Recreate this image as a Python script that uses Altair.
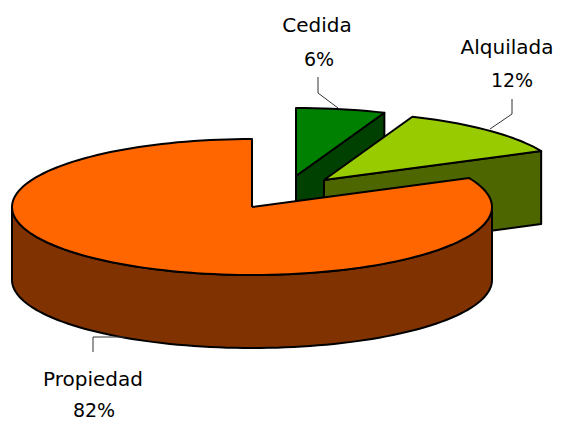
import numpy as np
import pandas as pd
import altair as alt

# Data
categories = ["Propiedad", "Cedida", "Alquilada"]
shares = [82, 6, 12]
top_colors = ["#FF6600", "#008000", "#99CC00"]
side_colors = ["#803300", "#004000", "#4D6600"]
centers_x = [252, 296, 324]
centers_y = [207, 176, 180]
label_x = [93, 317, 507]
label_name_y = [386, 32, 54]
pct_x = [94, 319, 512]
label_pct_y = [417, 66, 87]
leader_x = [[93, 93, 125], [318, 318, 338], [512, 512, 490]]
leader_y = [[352, 337, 337], [77, 93, 108], [99, 114, 129]]

RX, RY, DEPTH = 240, 68, 73
W, H = 548, 414
xs = alt.Scale(domain=[8, 8 + W], range=[0, W], nice=False, zero=False)
ys = alt.Scale(domain=[8, 8 + H], range=[0, H], nice=False, zero=False)


def arc(cx, cy, a0, a1):
    n = max(int(abs(a1 - a0) / 2), 2)
    t = np.radians(np.linspace(a0, a1, n + 1))
    return list(cx + RX * np.sin(t)), list(cy - RY * np.cos(t))


def poly(px, py, fill):
    df = pd.DataFrame({"x": px, "y": py, "i": range(len(px))})
    return alt.Chart(df).mark_line(
        fill=fill, stroke="black", strokeWidth=2, strokeJoin="round", clip=False
    ).encode(
        x=alt.X("x:Q", scale=xs, axis=None),
        y=alt.Y("y:Q", scale=ys, axis=None),
        order=alt.Order("i:Q"),
    )


layers = []

# exploded slices: Cedida (6%) from top clockwise, then Alquilada (12%)
spans = {}
spans["Cedida"] = (0.0, shares[1] * 3.6)
spans["Alquilada"] = (shares[1] * 3.6, (shares[1] + shares[2]) * 3.6)
spans["Propiedad"] = ((shares[1] + shares[2]) * 3.6, 360.0)

for k in (1, 2):
    a0, a1 = spans[categories[k]]
    cx, cy = centers_x[k], centers_y[k]
    ax, ay = arc(cx, cy, a0, a1)
    # right-facing cut wall, from apex to the arc end
    layers.append(poly([cx, ax[-1], ax[-1], cx, cx],
                       [cy, ay[-1], ay[-1] + DEPTH, cy + DEPTH, cy], side_colors[k]))
    layers.append(poly([cx] + ax + [cx], [cy] + ay + [cy], top_colors[k]))

# main slice: outer wall then top
cx, cy = centers_x[0], centers_y[0]
a0, a1 = spans["Propiedad"]
wx, wy = arc(cx, cy, 90, 270)
layers.append(poly(wx + wx[::-1] + wx[:1],
                   wy + [v + DEPTH for v in wy[::-1]] + wy[:1], side_colors[0]))
ax, ay = arc(cx, cy, a0, a1)
layers.append(poly([cx] + ax + [cx], [cy] + ay + [cy], top_colors[0]))

# leader lines
for lx, ly in zip(leader_x, leader_y):
    df = pd.DataFrame({"x": lx, "y": ly, "i": range(len(lx))})
    layers.append(
        alt.Chart(df).mark_line(stroke="#333333", strokeWidth=1).encode(
            x=alt.X("x:Q", scale=xs, axis=None),
            y=alt.Y("y:Q", scale=ys, axis=None),
            order=alt.Order("i:Q"),
        )
    )

# labels
names = pd.DataFrame({"x": label_x, "y": label_name_y, "t": categories})
pcts = pd.DataFrame({"x": pct_x, "y": label_pct_y, "t": [f"{v}%" for v in shares]})
for df, size in ((names, 20), (pcts, 19)):
    layers.append(
        alt.Chart(df).mark_text(
            font="DejaVu Sans", fontSize=size, color="black", align="center",
            baseline="alphabetic", clip=False,
        ).encode(
            x=alt.X("x:Q", scale=xs, axis=None),
            y=alt.Y("y:Q", scale=ys, axis=None),
            text="t:N",
        )
    )

chart = alt.layer(*layers).properties(
    width=W, height=H, padding=0, autosize=alt.AutoSizeParams(type="none"),
    background="white",
).configure_view(stroke=None)

chart.save("out.html", embed_options={"renderer": "svg", "actions": False})
